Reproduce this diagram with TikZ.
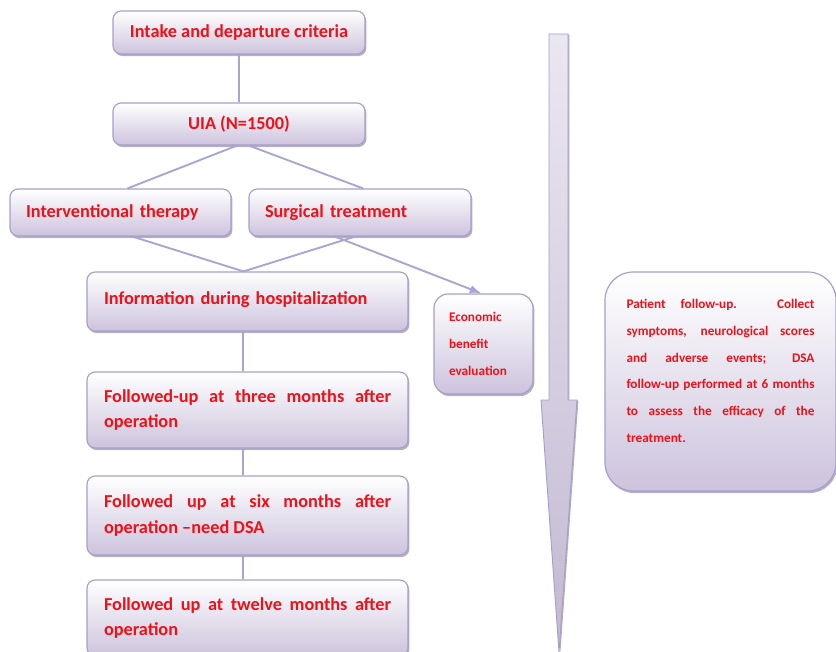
\documentclass[tikz,border=0pt]{standalone}
\usepackage{fontspec}
\setmainfont{Carlito}
\usetikzlibrary{shadows,arrows.meta}

\definecolor{lav}{HTML}{CDC3DD}
\definecolor{boxline}{HTML}{A79FC8}
\definecolor{linkcol}{HTML}{A9A4D2}
\definecolor{shadowgray}{HTML}{A29BB5}
\definecolor{txtred}{HTML}{EE1119}

\newlength\unitpx
\setlength\unitpx{0.03cm}

\tikzset{
  flowbox/.style={draw=boxline, line width=1pt, rounded corners=7pt,
    top color=white, bottom color=lav, text=txtred, inner sep=0pt,
    drop shadow={shadow xshift=1.2pt, shadow yshift=-1.8pt, fill=shadowgray, opacity=0.8},
    font=\bfseries\fontsize{15.6}{21.5}\selectfont},
  smalltext/.style={font=\bfseries\fontsize{11.3}{22.8}\selectfont},
  link/.style={draw=linkcol, line width=1.6pt},
}

\begin{document}
\begin{tikzpicture}[>={Latex[length=10pt,width=7pt]}, x=\unitpx, y=-\unitpx]
  \useasboundingbox (0,0) rectangle (836,652);

  % left column
  \node (intake) at (239,32.5) [flowbox, minimum width=252\unitpx, minimum height=43\unitpx]
        {Intake and departure criteria};
  \node (uia) at (239,124) [flowbox, minimum width=252\unitpx, minimum height=42\unitpx]
        {UIA (N=1500)};
  \node (inter) at (120.5,212.5) [flowbox, minimum width=221\unitpx, minimum height=47\unitpx,
        text width=189\unitpx, align=left] {Interventional therapy};
  \node (surg) at (360,212.5) [flowbox, minimum width=222\unitpx, minimum height=47\unitpx,
        text width=190\unitpx, align=left] {Surgical treatment};
  \node (info) at (247.5,301.5) [flowbox, minimum width=321\unitpx, minimum height=59\unitpx,
        text width=287\unitpx, align=left] {Information during hospitalization\par\vspace*{4pt}};
  \node (econ) at (483.5,344) [flowbox, smalltext, rounded corners=12pt,
        minimum width=99\unitpx, minimum height=100\unitpx,
        text width=69\unitpx, align=left] {Economic\\benefit\\evaluation};
  \node (three) at (247.5,410) [flowbox, minimum width=321\unitpx, minimum height=76\unitpx,
        text width=287\unitpx, align=justify]
        {Followed-up at three months after\linebreak operation};
  \node (six) at (247.5,515.5) [flowbox, minimum width=321\unitpx, minimum height=79\unitpx,
        text width=287\unitpx, align=justify]
        {Followed up at six months after\linebreak operation --need DSA};
  \node (twelve) at (247.5,618) [flowbox, minimum width=321\unitpx, minimum height=76\unitpx,
        text width=287\unitpx, align=justify]
        {Followed up at twelve months after\linebreak operation};

  % time arrow
  \draw [draw=boxline, line width=0.8pt, top color=white!60!lav, bottom color=lav!95!black,
         drop shadow={shadow xshift=1.2pt, shadow yshift=-0.5pt, fill=shadowgray, opacity=0.8}]
        (549,34) -- (568,34) -- (568,400) -- (577,400) -- (559,652)
        -- (541,400) -- (549,400) -- cycle;

  % right note
  \node (follow) at (720.5,381.5) [flowbox, smalltext, rounded corners=24pt,
        minimum width=231\unitpx, minimum height=219\unitpx,
        text width=188\unitpx, align=justify]
        {Patient follow-up. Collect\linebreak symptoms, neurological scores\linebreak
         and adverse events; DSA\linebreak follow-up performed at 6 months\linebreak
         to assess the efficacy of the\linebreak treatment.\par\vspace*{18pt}};

  % connectors
  \draw [link] (intake.south) -- (uia.north);
  \draw [link] ([xshift=-2\unitpx]uia.south) -- ([xshift=7\unitpx]inter.north);
  \draw [link] ([xshift=10\unitpx]uia.south) -- ([xshift=3\unitpx]surg.north);
  \draw [link] ([xshift=12\unitpx]inter.south) -- ([xshift=-4\unitpx]info.north);
  \draw [link] ([xshift=-5\unitpx]surg.south) -- ([xshift=-4\unitpx]info.north);
  \draw [link, ->] ([xshift=-25\unitpx]surg.south) -- ([xshift=-2\unitpx]econ.north);
  \draw [link] ([xshift=-4.5\unitpx]info.south) -- ([xshift=-4.5\unitpx]three.north);
  \draw [link] ([xshift=-4.5\unitpx]three.south) -- ([xshift=-4.5\unitpx]six.north);
  \draw [link] ([xshift=-4.5\unitpx]six.south) -- ([xshift=-4.5\unitpx]twelve.north);
\end{tikzpicture}
\end{document}
